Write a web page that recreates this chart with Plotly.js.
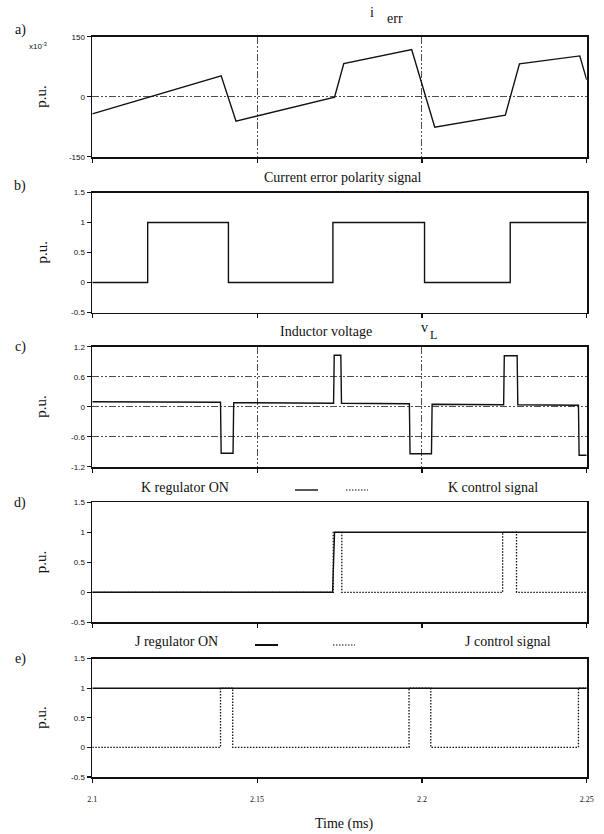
<!DOCTYPE html>
<html><head><meta charset="utf-8">
<script src="https://cdn.plot.ly/plotly-3.0.1.min.js"></script>
<style>html,body{margin:0;padding:0;background:#fff}#chart{width:604px;height:834px}</style>
</head><body><div id="chart"></div>
<script>
// ---------- data (time in ms) ----------
const xTicks = [2.1, 2.15, 2.2, 2.25];
const xTickText = ["2.1", "2.15", "2.2", "2.25"];

// a) current error i_err (x10^-3 p.u.)
const tErr = [2.1, 2.1391, 2.1436, 2.1735, 2.1763, 2.1969, 2.2039, 2.2253, 2.2296, 2.2479, 2.25];
const iErr = [-43, 52, -61, -1, 83, 118, -76, -46, 82, 102, 42];
const aTicks = [150, 0, -150];

// b) current error polarity signal
const tPol = [2.1, 2.1168, 2.1413, 2.1730, 2.2008, 2.2268, 2.25];
const pol  = [0, 1, 0, 1, 0, 1, 1];
const bTicks = [1.5, 1, 0.5, 0, -0.5];

// c) inductor voltage v_L
const tVL = [2.1, 2.1389, 2.1391, 2.1427, 2.1429, 2.1732, 2.1734, 2.1754, 2.1756, 2.1962, 2.1964, 2.2029, 2.2031, 2.2248, 2.2250, 2.2289, 2.2291, 2.2475, 2.2477, 2.25];
const vL  = [0.10, 0.09, -0.93, -0.93, 0.08, 0.07, 1.03, 1.03, 0.07, 0.06, -0.94, -0.94, 0.05, 0.04, 1.02, 1.02, 0.04, 0.03, -0.97, -0.97];
const cTicks = [1.2, 0.6, 0, -0.6, -1.2];

// d) K regulator ON / K control signal
const tKon = [2.1, 2.1729, 2.1735, 2.25];
const kOn  = [0, 0, 1, 1];
const tKc  = [2.1, 2.1731, 2.1757, 2.2245, 2.2287, 2.25];
const kCtl = [0, 1, 0, 1, 0, 0];

// e) J regulator ON / J control signal
const tJon = [2.1, 2.25];
const jOn  = [1, 1];
const tJc  = [2.1, 2.1389, 2.1426, 2.1961, 2.2027, 2.2475, 2.25];
const jCtl = [0, 1, 0, 1, 0, 1, 1];

// ---------- layout helpers ----------
const W = 604, H = 834;
const X0 = 92.3, X1 = 586.7;
const fx = x => x / W;
const fy = y => 1 - y / H;
const panels = [[36.7,156.7],[192.5,312.5],[346.7,466.7],[502.3,622.3],[658.6,777]];
const serif = '"Liberation Serif", "Times New Roman", serif';
const sans = '"Liberation Sans", Arial, sans-serif';
const ink = '#111';
const GRIDDASH = '7px,2px,2px,2px,2px,2px';
const DOTS = '1.5px,1.5px';

const line = {color: ink, width: 1.4};
const dotted = {color: ink, width: 1.3, dash: DOTS};

const traces = [
  {x: tErr, y: iErr, mode: 'lines', line: line, xaxis: 'x', yaxis: 'y'},
  {x: tPol, y: pol, mode: 'lines', line: Object.assign({shape: 'hv'}, line), xaxis: 'x2', yaxis: 'y2'},
  {x: tVL, y: vL, mode: 'lines', line: line, xaxis: 'x3', yaxis: 'y3'},
  {x: tKc, y: kCtl, mode: 'lines', line: Object.assign({shape: 'hv'}, dotted), xaxis: 'x4', yaxis: 'y4'},
  {x: tKon, y: kOn, mode: 'lines', line: line, xaxis: 'x4', yaxis: 'y4'},
  {x: tJc, y: jCtl, mode: 'lines', line: Object.assign({shape: 'hv'}, dotted), xaxis: 'x5', yaxis: 'y5'},
  {x: tJon, y: jOn, mode: 'lines', line: line, xaxis: 'x5', yaxis: 'y5'}
];
traces.forEach(t => { t.showlegend = false; t.hoverinfo = 'skip'; });

function xAxis(i, grid, labels) {
  return {
    domain: [fx(X0), fx(X1)], range: [2.1, 2.25], anchor: 'y' + (i === 1 ? '' : i),
    tickvals: xTicks, ticktext: xTickText, showticklabels: labels,
    ticks: 'outside', ticklen: 4, tickwidth: 1.2, tickcolor: ink,
    ticklabelstandoff: 10,
    tickfont: {family: serif, size: 8, color: ink},
    showline: true, mirror: true, linecolor: ink, linewidth: 1.8,
    showgrid: grid, gridcolor: '#222', gridwidth: 0.8, griddash: GRIDDASH,
    zeroline: false, fixedrange: true
  };
}
function yAxis(i, range, ticks, grid) {
  const p = panels[i - 1];
  return {
    domain: [fy(p[1]), fy(p[0])], range: range, anchor: 'x' + (i === 1 ? '' : i),
    tickvals: ticks, ticktext: ticks.map(String),
    ticks: 'outside', ticklen: 4, tickwidth: 1.2, tickcolor: ink,
    tickfont: {family: sans, size: 8, color: ink},
    showline: true, mirror: true, linecolor: ink, linewidth: 1.8,
    showgrid: grid, gridcolor: '#222', gridwidth: 0.8, griddash: GRIDDASH,
    zeroline: false, fixedrange: true
  };
}

function txt(text, x, y, size, extra) {
  return Object.assign({text: text, xref: 'paper', yref: 'paper', x: fx(x), y: fy(y),
    xanchor: 'center', yanchor: 'middle', showarrow: false,
    font: {family: serif, size: size, color: ink}}, extra || {});
}

const annotations = [
  txt('a)', 20, 30, 14), txt('b)', 20, 186, 14), txt('c)', 20, 347, 14),
  txt('d)', 20, 503, 14), txt('e)', 20, 659, 14),
  txt('x10<sup>-3</sup>', 38, 46, 8, {font: {family: sans, size: 8, color: ink}}),
  txt('i', 372, 12, 14), txt('err', 395, 19, 14),
  txt('Current error polarity signal', 343, 177, 14),
  txt('Inductor voltage', 326, 331, 14),
  txt('v', 424, 327, 14), txt('L', 433, 335, 12),
  txt('K regulator ON', 185, 487, 14),
  txt('K control signal', 493, 487, 14),
  txt('J regulator ON', 176, 641, 14),
  txt('J control signal', 508, 641, 14),
  txt('Time (ms)', 344, 824, 14)
];
panels.forEach(p => annotations.push(txt('p.u.', 41, (p[0] + p[1]) / 2, 15, {textangle: -90})));

const shapes = [
  {type: 'line', xref: 'paper', yref: 'paper', x0: fx(295), x1: fx(318), y0: fy(490), y1: fy(490), line: {color: ink, width: 1.4}},
  {type: 'line', xref: 'paper', yref: 'paper', x0: fx(346), x1: fx(368), y0: fy(490), y1: fy(490), line: {color: ink, width: 1.2, dash: DOTS}},
  {type: 'line', xref: 'paper', yref: 'paper', x0: fx(255), x1: fx(278), y0: fy(645), y1: fy(645), line: {color: ink, width: 2}},
  {type: 'line', xref: 'paper', yref: 'paper', x0: fx(333), x1: fx(355), y0: fy(645), y1: fy(645), line: {color: ink, width: 1.2, dash: DOTS}}
];

const layout = {
  width: W, height: H, margin: {l: 0, r: 0, t: 0, b: 0},
  paper_bgcolor: '#fff', plot_bgcolor: '#fff', showlegend: false,
  xaxis: xAxis(1, true, false), yaxis: yAxis(1, [-150, 150], aTicks, true),
  xaxis2: xAxis(2, false, false), yaxis2: yAxis(2, [-0.5, 1.5], bTicks, false),
  xaxis3: xAxis(3, true, false), yaxis3: yAxis(3, [-1.2, 1.2], cTicks, true),
  xaxis4: xAxis(4, false, false), yaxis4: yAxis(4, [-0.5, 1.5], bTicks, false),
  xaxis5: xAxis(5, false, true), yaxis5: yAxis(5, [-0.5, 1.5], bTicks, false),
  annotations: annotations, shapes: shapes
};

Plotly.newPlot('chart', traces, layout, {staticPlot: true, displayModeBar: false});
</script>
</body></html>
